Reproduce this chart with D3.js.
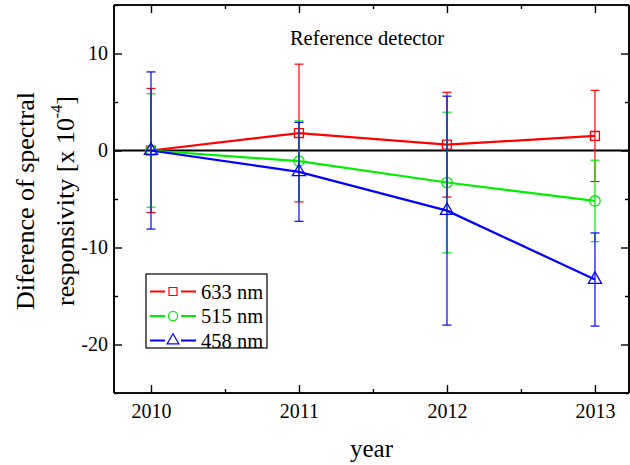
<!DOCTYPE html>
<html>
<head>
<meta charset="utf-8">
<script src="https://d3js.org/d3.v7.min.js"></script>
<style>
  body { margin: 0; background: #fff; }
  svg text { font-family: "Liberation Serif", "Times New Roman", serif; fill: #000; }
</style>
</head>
<body>
<svg width="630" height="465"></svg>
<script>
// data
var years = [2010, 2011, 2012, 2013];
var val633 = [0, 1.8, 0.6, 1.5];
var err633 = [6.4, 7.1, 5.4, 4.7];
var val515 = [0, -1.1, -3.3, -5.2];
var err515 = [5.85, 4.15, 7.25, 4.2];
var val458 = [0, -2.2, -6.2, -13.3];
var err458 = [8.1, 5.1, 11.8, 4.8];
var yTicks = [-20, -10, 0, 10];
var yMinor = [-25, -15, -5, 5, 15];
var xMinor = [2010.5, 2011.5, 2012.5];

var series = [
  {name: "633 nm", vals: val633, errs: err633, color: "#ff0000", sym: d3.symbolSquare, size: 80},
  {name: "515 nm", vals: val515, errs: err515, color: "#00ee00", sym: d3.symbolCircle, size: 85},
  {name: "458 nm", vals: val458, errs: err458, color: "#0000ff", sym: d3.symbolTriangle, size: 75}
];

var svg = d3.select("svg");
var m = {left: 114, right: 629, top: 5, bottom: 393};

var x = d3.scaleLinear().domain([2009.75, 2013.23]).range([m.left, m.right]);
var y = d3.scaleLinear().domain([-25, 15]).range([m.bottom, m.top]);

// axes, ticks pointing inward
var gx = svg.append("g").attr("transform", "translate(0," + m.bottom + ")")
  .call(d3.axisBottom(x).tickValues(years).tickFormat(function(d){ return String(d); }).tickSize(-8).tickPadding(11));
gx.append("g").call(d3.axisBottom(x).tickValues(xMinor).tickFormat("").tickSize(-4));

var gxt = svg.append("g").attr("transform", "translate(0," + m.top + ")")
  .call(d3.axisTop(x).tickValues(years).tickFormat("").tickSize(-8));
gxt.append("g").call(d3.axisTop(x).tickValues(xMinor).tickFormat("").tickSize(-4));

var gy = svg.append("g").attr("transform", "translate(" + m.left + ",0)")
  .call(d3.axisLeft(y).tickValues(yTicks).tickFormat(function(d){ return String(d); }).tickSize(-8).tickPadding(6));
gy.append("g").call(d3.axisLeft(y).tickValues(yMinor).tickFormat("").tickSize(-4));

var gyr = svg.append("g").attr("transform", "translate(" + m.right + ",0)")
  .call(d3.axisRight(y).tickValues(yTicks).tickFormat("").tickSize(-8));
gyr.append("g").call(d3.axisRight(y).tickValues(yMinor).tickFormat("").tickSize(-4));

svg.selectAll(".domain").attr("stroke-width", 1.6);
svg.selectAll(".tick line").attr("stroke-width", 1.4);
svg.selectAll(".tick text").style("font-size", "20px").style("font-family", "Liberation Serif");
gx.selectAll(".domain").attr("d", "M" + m.left + ",0H" + m.right);
gxt.selectAll(".domain").attr("d", "M" + m.left + ",0H" + m.right);
gy.selectAll(".domain").attr("d", "M0," + m.top + "V" + m.bottom);
gyr.selectAll(".domain").attr("d", "M0," + m.top + "V" + m.bottom);

// zero line
svg.append("line")
  .attr("x1", m.left).attr("x2", m.right)
  .attr("y1", y(0)).attr("y2", y(0))
  .attr("stroke", "#000").attr("stroke-width", 2);

var line = d3.line().x(function(d, i){ return x(years[i]); }).y(function(d){ return y(d); });

series.forEach(function(s) {
  var g = svg.append("g");
  s.vals.forEach(function(v, i) {
    var cx = x(years[i]);
    var y1 = y(v + s.errs[i]), y2 = y(v - s.errs[i]);
    g.append("line").attr("x1", cx).attr("x2", cx).attr("y1", y1).attr("y2", y2)
      .attr("stroke", s.color).attr("stroke-width", 1.2);
    [y1, y2].forEach(function(yy) {
      g.append("line").attr("x1", cx - 4.5).attr("x2", cx + 4.5).attr("y1", yy).attr("y2", yy)
        .attr("stroke", s.color).attr("stroke-width", 1.2);
    });
  });
  g.append("path").attr("d", line(s.vals))
    .attr("fill", "none").attr("stroke", s.color).attr("stroke-width", 2.2);
  s.vals.forEach(function(v, i) {
    g.append("path").attr("d", d3.symbol().type(s.sym).size(s.size)())
      .attr("transform", "translate(" + x(years[i]) + "," + y(v) + ")")
      .attr("fill", "none").attr("stroke", s.color).attr("stroke-width", 1.3);
  });
});

// legend
var lg = svg.append("g");
lg.append("rect").attr("x", 146).attr("y", 274).attr("width", 121).attr("height", 74)
  .attr("fill", "#fff").attr("stroke", "#000").attr("stroke-width", 1.2);
series.forEach(function(s, i) {
  var cy = 291.5 + i * 24.5;
  lg.append("line").attr("x1", 150).attr("x2", 165).attr("y1", cy).attr("y2", cy)
    .attr("stroke", s.color).attr("stroke-width", 2);
  lg.append("line").attr("x1", 181).attr("x2", 196).attr("y1", cy).attr("y2", cy)
    .attr("stroke", s.color).attr("stroke-width", 2);
  lg.append("path").attr("d", d3.symbol().type(s.sym).size(s.size * 0.8)())
    .attr("transform", "translate(173," + cy + ")")
    .attr("fill", "none").attr("stroke", s.color).attr("stroke-width", 1.2);
  lg.append("text").attr("x", 201).attr("y", cy + 7)
    .style("font-size", "20.5px").text(s.name);
});

// title inside plot
svg.append("text").attr("x", 367).attr("y", 45).attr("text-anchor", "middle")
  .style("font-size", "20.5px").text("Reference detector");

// axis titles
svg.append("text").attr("x", (m.left + m.right) / 2).attr("y", 457).attr("text-anchor", "middle")
  .style("font-size", "25px").text("year");

var yl = svg.append("text").attr("transform", "translate(34,201) rotate(-90)")
  .attr("text-anchor", "middle").style("font-size", "26px");
yl.append("tspan").attr("x", 0).attr("y", 0).text("Diference of spectral");
var l2 = yl.append("tspan").attr("x", 0).attr("y", 40);
l2.append("tspan").text("responsivity [x 10");
l2.append("tspan").attr("dy", -12).style("font-size", "16px").text("-4");
l2.append("tspan").attr("dy", 12).text("]");
</script>
</body>
</html>
